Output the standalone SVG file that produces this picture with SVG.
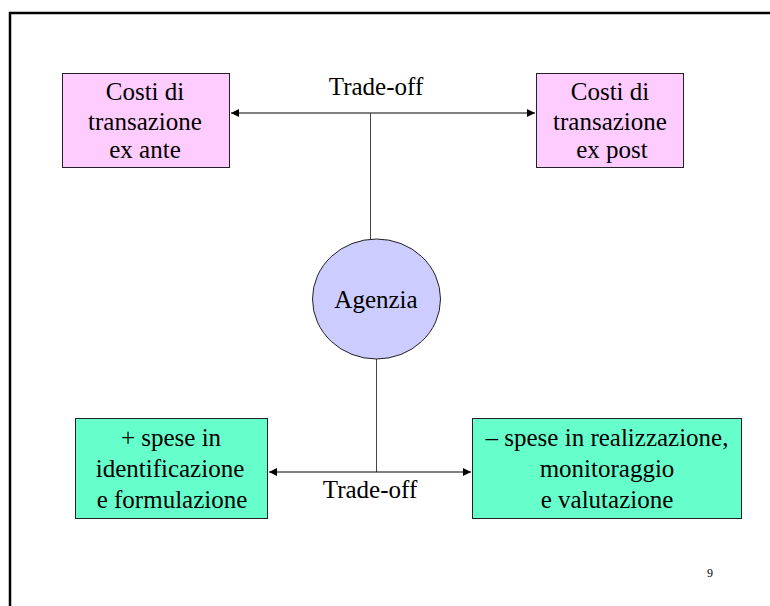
<svg xmlns="http://www.w3.org/2000/svg" width="770" height="606" viewBox="0 0 770 606">
<style>
  .t { font-family: 'Liberation Serif', 'Times New Roman', Times, 'DejaVu Serif', serif; font-size: 25px; fill: #000; text-anchor: middle; }
  .pink { fill: #FFCCFF; stroke: #222; stroke-width: 1; }
  .green { fill: #66FFCC; stroke: #222; stroke-width: 1; }
  .conn { stroke: #000; stroke-width: 1; fill: none; }
  .stem { stroke: #444; stroke-width: 1; fill: none; }
</style>
<defs>
  <marker id="arr" viewBox="0 0 10 10" refX="10" refY="5" markerWidth="8" markerHeight="8" markerUnits="userSpaceOnUse" orient="auto-start-reverse">
    <path d="M0,0 L10,5 L0,10 Z" fill="#000"/>
  </marker>
</defs>
<rect width="770" height="606" fill="#fff"/>
<path d="M10,606 V13 H770" fill="none" stroke="#000" stroke-width="2.5"/>
<g id="connectors">
  <line class="conn" x1="231" y1="113" x2="535" y2="113" marker-start="url(#arr)" marker-end="url(#arr)"/>
  <line class="stem" x1="370.5" y1="113" x2="370.5" y2="240"/>
  <line class="stem" x1="376.5" y1="359" x2="376.5" y2="472"/>
  <line class="conn" x1="269" y1="472" x2="471" y2="472" marker-start="url(#arr)" marker-end="url(#arr)"/>
  <text class="t" x="376" y="95">Trade-off</text>
  <text class="t" x="370" y="498">Trade-off</text>
</g>
<g id="exante">
  <rect class="pink" x="62.5" y="73.5" width="167" height="94"/>
  <text class="t" x="145" y="100">Costi di</text>
  <text class="t" x="145" y="130">transazione</text>
  <text class="t" x="145" y="158">ex ante</text>
</g>
<g id="expost">
  <rect class="pink" x="536.5" y="73.5" width="147" height="94"/>
  <text class="t" x="610" y="100">Costi di</text>
  <text class="t" x="610" y="130">transazione</text>
  <text class="t" x="612" y="158">ex post</text>
</g>
<g id="agenzia">
  <ellipse cx="376.5" cy="299" rx="64" ry="60" fill="#CCCCFF" stroke="#222" stroke-width="1"/>
  <text class="t" x="376" y="308">Agenzia</text>
</g>
<g id="identificazione">
  <rect class="green" x="75.5" y="418.5" width="192" height="100"/>
  <text class="t" x="171" y="446">+ spese in</text>
  <text class="t" x="170" y="477">identificazione</text>
  <text class="t" x="172" y="508">e formulazione</text>
</g>
<g id="realizzazione">
  <rect class="green" x="472.5" y="418.5" width="269" height="100"/>
  <text class="t" x="607" y="446">– spese in realizzazione,</text>
  <text class="t" x="607" y="477">monitoraggio</text>
  <text class="t" x="607" y="508">e valutazione</text>
</g>
<text class="t" x="710" y="577" style="font-size:12px">9</text>
</svg>
